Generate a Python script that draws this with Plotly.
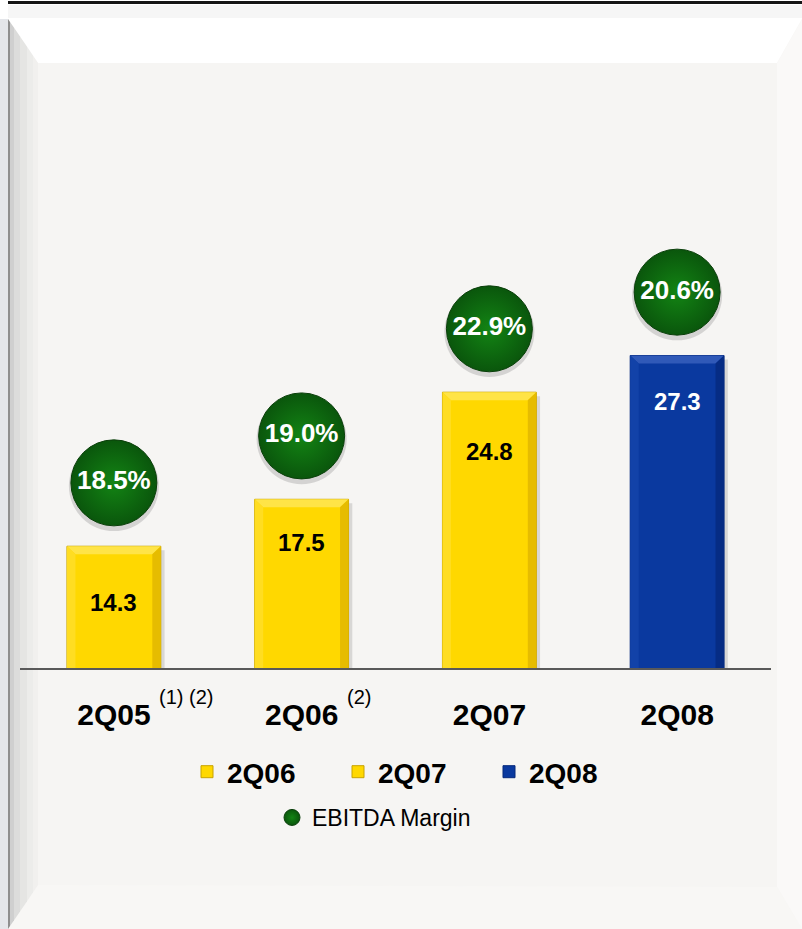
import plotly.graph_objects as go

# ---- data -------------------------------------------------------------
quarters = ["2Q05", "2Q06", "2Q07", "2Q08"]
ebitda = [14.3, 17.5, 24.8, 27.3]
margin = [18.5, 19.0, 22.9, 20.6]
legend_names = ["", "2Q06", "2Q07", "2Q08"]
footnotes = ["(1) (2)", "(2)", "", ""]

# ---- style ------------------------------------------------------------
W, H = 802, 929
FONT = "Liberation Sans, Arial, Helvetica, sans-serif"
Y_MIN, Y_MAX = 6.0, 37.9
BAR_W = 0.5
BADGE_LIFT = 4.32           # badge centre sits this far above the bar top
LABEL_DROP = [56, 43, 59, 46]  # px below bar top for the value labels

YELLOW = dict(face="#FFD800", top="#FFE447", left="#FFDD22", right="#E6BC00", edge="#C7A200")
BLUE = dict(face="#0A399F", top="#3059B8", left="#1242A8", right="#062C84", edge="#05287A")
palette = [YELLOW, YELLOW, YELLOW, BLUE]
label_colors = ["#000000", "#000000", "#000000", "#FFFFFF"]

X0, X1 = 20, 771       # plot area, pixels
Y_TOP, Y_BASE = 200, 668


def px(x):
    return x / W


def py(y):
    return 1 - y / H


def poly(points):
    return "M" + "L".join(f"{px(x):.5f},{py(y):.5f}" for x, y in points) + "Z"


fig = go.Figure()

# bars, one trace per quarter so the legend can carry the quarter names
for i, q in enumerate(quarters):
    c = palette[i]
    fig.add_trace(go.Bar(
        x=[q], y=[ebitda[i]], width=BAR_W,
        name=legend_names[i] or q,
        showlegend=bool(legend_names[i]),
        legend="legend",
        marker=dict(color=c["face"], line=dict(color=c["edge"], width=1)),
        hoverinfo="x+y",
    ))

# soft shadow behind the margin badges
fig.add_trace(go.Scatter(
    x=quarters, y=[v + BADGE_LIFT - 0.22 for v in ebitda],
    mode="markers", showlegend=False, hoverinfo="skip",
    marker=dict(size=90, color="rgba(60,60,60,0.18)", line=dict(width=0)),
))

# EBITDA margin badges
fig.add_trace(go.Scatter(
    x=quarters, y=[v + BADGE_LIFT for v in ebitda],
    mode="markers+text", name="EBITDA Margin", legend="legend2",
    text=[f"{m:.1f}%" for m in margin],
    textposition="middle center",
    textfont=dict(family=FONT, size=26, color="#FFFFFF", weight="bold"),
    marker=dict(size=86, color="#0A560C",
                gradient=dict(type="radial", color="#138414"),
                line=dict(color="#0A3F0A", width=1)),
    hovertemplate="%{text}<extra></extra>",
))

shapes = []

# page frame
shapes.append(dict(type="rect", xref="paper", yref="paper", x0=0, x1=px(8),
                   y0=py(929), y1=py(19), fillcolor="#E4E6EA", line_width=0, layer="below"))
shapes.append(dict(type="rect", xref="paper", yref="paper", x0=px(8), x1=1,
                   y0=py(18), y1=py(5), fillcolor="#F6F6F6", line_width=0, layer="below"))
shapes.append(dict(type="rect", xref="paper", yref="paper", x0=px(8), x1=1,
                   y0=py(4), y1=py(1), fillcolor="#151515", line_width=0, layer="below"))
shapes.append(dict(type="rect", xref="paper", yref="paper", x0=px(8), x1=1,
                   y0=0, y1=py(19), fillcolor="#F6F5F3", line_width=0, layer="below"))
shapes.append(dict(type="path", xref="paper", yref="paper", layer="below", line_width=0,
                   path=poly([(8, 19), (802, 19), (777, 63), (38, 63)]), fillcolor="#FFFFFF"))
shapes.append(dict(type="path", xref="paper", yref="paper", layer="below", line_width=0,
                   path=poly([(802, 19), (802, 929), (777, 887), (777, 63)]), fillcolor="#FAF9F8"))
shapes.append(dict(type="path", xref="paper", yref="paper", layer="below", line_width=0,
                   path=poly([(38, 885), (777, 887), (802, 929), (8, 929)]), fillcolor="#F8F7F5"))

# left bevel drawn as graded strips
strips = [(8, 10, "#8E8E8E"), (10, 14, "#CFCFCF"), (14, 20, "#DCDCDB"),
          (20, 27, "#E5E5E3"), (27, 33, "#ECECEA"), (33, 38, "#F1F0EE")]
for xa, xb, col in strips:
    ta = 19 + (xa - 8) * 44 / 30
    tb = 19 + (xb - 8) * 44 / 30
    ba = 929 - (xa - 8) * 44 / 30
    bb = 929 - (xb - 8) * 44 / 30
    shapes.append(dict(type="path", xref="paper", yref="paper", layer="below", line_width=0,
                       path=poly([(xa, ta), (xb, tb), (xb, bb), (xa, ba)]), fillcolor=col))

# bevel highlights on the bars
dx = 8.5 / ((X1 - X0) / 4)
dy = 8.0 * (Y_MAX - Y_MIN) / (Y_BASE - Y_TOP)
for i, v in enumerate(ebitda):
    c = palette[i]
    a, b = i - BAR_W / 2, i + BAR_W / 2
    faces = [
        ([(a, v), (b, v), (b - dx, v - dy), (a + dx, v - dy)], c["top"]),
        ([(a, v), (a + dx, v - dy), (a + dx, Y_MIN), (a, Y_MIN)], c["left"]),
        ([(b, v), (b - dx, v - dy), (b - dx, Y_MIN), (b, Y_MIN)], c["right"]),
    ]
    for pts, col in faces:
        shapes.append(dict(type="path", xref="x", yref="y", layer="above", line_width=0,
                           fillcolor=col,
                           path="M" + "L".join(f"{x:.4f},{y:.4f}" for x, y in pts) + "Z"))
    # thin shadow on the right of each bar
    shapes.append(dict(type="rect", xref="x", yref="y", layer="below", line_width=0,
                       x0=b, x1=b + 0.02, y0=Y_MIN, y1=v - dy / 2,
                       fillcolor="rgba(0,0,0,0.12)"))

annotations = []
for i, q in enumerate(quarters):
    annotations.append(dict(
        x=q, y=ebitda[i], xref="x", yref="y", yshift=-LABEL_DROP[i],
        text=f"<b>{ebitda[i]:.1f}</b>", showarrow=False,
        font=dict(family=FONT, size=24, color=label_colors[i]),
    ))
    if footnotes[i]:
        annotations.append(dict(
            x=q, y=py(697), xref="x", yref="paper", xanchor="left", yanchor="middle",
            xshift=43, text=footnotes[i], showarrow=False,
            font=dict(family=FONT, size=20, color="#000000"),
        ))

fig.update_layout(
    width=W, height=H,
    margin=dict(l=0, r=0, t=0, b=0),
    paper_bgcolor="#FFFFFF",
    plot_bgcolor="rgba(0,0,0,0)",
    font=dict(family=FONT, color="#000000"),
    bargap=0.5,
    shapes=shapes,
    annotations=annotations,
    xaxis=dict(
        domain=[px(X0), px(X1)], type="category", categoryorder="array",
        categoryarray=quarters, range=[-0.5, 3.5],
        showline=True, linecolor="#595959", linewidth=2,
        showgrid=False, zeroline=False, ticks="",
        ticklabelstandoff=19,
        tickfont=dict(family=FONT, size=30, color="#000000", weight="bold"),
        fixedrange=True,
    ),
    yaxis=dict(
        domain=[py(Y_BASE), py(Y_TOP)], range=[Y_MIN, Y_MAX],
        showticklabels=False, showgrid=False, zeroline=False, showline=False,
        ticks="", fixedrange=True,
    ),
    legend=dict(
        orientation="h", x=px(187), y=py(747), xanchor="left", yanchor="top",
        font=dict(family=FONT, size=28, color="#000000", weight="bold"),
        bgcolor="rgba(0,0,0,0)", entrywidth=106, entrywidthmode="pixels",
        traceorder="normal",
    ),
    legend2=dict(
        orientation="h", x=px(272), y=py(796), xanchor="left", yanchor="top",
        font=dict(family=FONT, size=23, color="#000000"),
        bgcolor="rgba(0,0,0,0)",
    ),
    showlegend=True,
)

fig.write_html("out.html")
